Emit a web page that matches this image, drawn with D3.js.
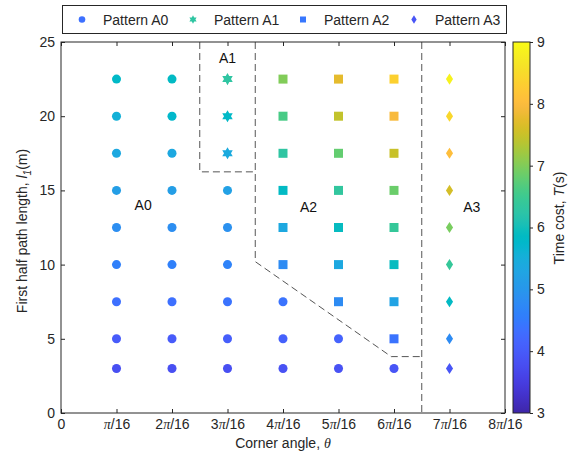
<!DOCTYPE html>
<html>
<head>
<meta charset="utf-8">
<script src="https://cdn.jsdelivr.net/npm/d3@7"></script>
<style>
  html, body { margin: 0; padding: 0; background: #fff; }
  svg { display: block; font-family: "Liberation Sans", Arial, sans-serif; }
</style>
</head>
<body>
<svg id="chart" width="573" height="457"></svg>
<script>
// Corner angle in units of pi/16
const angleSteps = [1, 2, 3, 4, 5, 6, 7];
// First half path length l1 (m)
const pathLengths = [3, 5, 7.5, 10, 12.5, 15, 17.5, 20, 22.5];
// Time cost T (s); one row per corner angle, ordered like pathLengths
const timeCost = [
  [3.8, 4.0, 4.35, 4.6, 4.85, 5.15, 5.35, 5.55, 5.8],
  [3.8, 4.0, 4.35, 4.6, 4.85, 5.15, 5.35, 5.75, 5.85],
  [3.8, 4.05, 4.4, 4.65, 4.9, 5.2, 5.4, 5.8, 6.3],
  [3.85, 4.1, 4.4, 4.8, 5.35, 5.85, 6.3, 6.6, 7.0],
  [3.85, 4.15, 4.8, 5.35, 5.9, 6.35, 6.8, 7.45, 7.75],
  [3.9, 4.4, 5.25, 5.9, 6.4, 6.85, 7.5, 7.95, 8.35],
  [3.9, 4.8, 5.85, 6.4, 6.95, 7.6, 8.05, 8.45, 8.85]
];
// Motion pattern of each point (0 = A0, 1 = A1, 2 = A2, 3 = A3)
const patternGrid = [
  [0, 0, 0, 0, 0, 0, 0, 0, 0],
  [0, 0, 0, 0, 0, 0, 0, 0, 0],
  [0, 0, 0, 0, 0, 0, 1, 1, 1],
  [0, 0, 0, 2, 2, 2, 2, 2, 2],
  [0, 0, 2, 2, 2, 2, 2, 2, 2],
  [0, 2, 2, 2, 2, 2, 2, 2, 2],
  [3, 3, 3, 3, 3, 3, 3, 3, 3]
];
const patternNames = ["Pattern A0", "Pattern A1", "Pattern A2", "Pattern A3"];
const legendTimeCost = [4.35, 6.3, 4.45, 3.9];

// Region boundaries (angle step, l1)
const boundaryA1 = [[2.5, 25], [2.5, 16.25], [3.5, 16.25]];
const boundaryA2 = [[3.5, 25], [3.5, 10.2], [5.95, 3.8], [6.5, 3.8]];
const boundaryA3 = [[6.5, 25], [6.5, 0]];
const regionLabels = ["A0", "A1", "A2", "A3"];
const regionLabelPos = [[1.48, 14.0], [3.0, 23.9], [4.46, 13.9], [7.4, 13.9]];

const xTicks = [0, 1, 2, 3, 4, 5, 6, 7, 8];
const yTicks = [0, 5, 10, 15, 20, 25];
const cTicks = [3, 4, 5, 6, 7, 8, 9];

// parula(64)
const parula = [
[0.2422,0.1504,0.6603],[0.2504,0.1650,0.7076],[0.2578,0.1818,0.7511],[0.2647,0.1978,0.7952],
[0.2706,0.2147,0.8364],[0.2751,0.2342,0.8710],[0.2783,0.2559,0.8991],[0.2803,0.2782,0.9221],
[0.2813,0.3006,0.9414],[0.2810,0.3228,0.9579],[0.2795,0.3447,0.9717],[0.2760,0.3667,0.9829],
[0.2699,0.3892,0.9906],[0.2602,0.4123,0.9952],[0.2440,0.4358,0.9988],[0.2206,0.4603,0.9973],
[0.1963,0.4847,0.9892],[0.1834,0.5074,0.9798],[0.1786,0.5289,0.9682],[0.1764,0.5499,0.9520],
[0.1687,0.5703,0.9359],[0.1540,0.5902,0.9218],[0.1460,0.6091,0.9079],[0.1380,0.6276,0.8973],
[0.1248,0.6459,0.8883],[0.1113,0.6635,0.8763],[0.0952,0.6798,0.8598],[0.0689,0.6948,0.8394],
[0.0297,0.7082,0.8163],[0.0036,0.7203,0.7917],[0.0067,0.7312,0.7660],[0.0433,0.7411,0.7394],
[0.0964,0.7500,0.7120],[0.1408,0.7584,0.6842],[0.1717,0.7670,0.6554],[0.1938,0.7758,0.6251],
[0.2161,0.7843,0.5923],[0.2470,0.7918,0.5567],[0.2906,0.7973,0.5188],[0.3406,0.8008,0.4789],
[0.3909,0.8029,0.4354],[0.4456,0.8024,0.3909],[0.5044,0.7993,0.3480],[0.5616,0.7942,0.3045],
[0.6174,0.7876,0.2612],[0.6720,0.7793,0.2227],[0.7242,0.7698,0.1910],[0.7738,0.7598,0.1646],
[0.8203,0.7498,0.1535],[0.8634,0.7406,0.1596],[0.9035,0.7330,0.1774],[0.9393,0.7288,0.2100],
[0.9728,0.7298,0.2394],[0.9956,0.7434,0.2371],[0.9970,0.7659,0.2199],[0.9952,0.7893,0.2028],
[0.9892,0.8136,0.1885],[0.9786,0.8386,0.1766],[0.9676,0.8639,0.1643],[0.9610,0.8890,0.1537],
[0.9597,0.9135,0.1423],[0.9628,0.9373,0.1265],[0.9691,0.9606,0.1064],[0.9769,0.9839,0.0805]
].map(c => d3.rgb(c[0] * 255, c[1] * 255, c[2] * 255).formatHex());

const ink = "#262626";
const svg = d3.select("#chart");
const plot = { left: 61, right: 505, top: 42, bottom: 413 };

const x = d3.scaleLinear().domain([0, 8]).range([plot.left, plot.right]);
const y = d3.scaleLinear().domain([0, 25]).range([plot.bottom, plot.top]);
const color = d3.scaleSequential(d3.piecewise(d3.interpolateRgb, parula)).domain([3, 9]);

// marker shapes
const hexagram = {
  draw(ctx, size) {
    const R = Math.sqrt(size) * 0.62, r = R / Math.sqrt(3);
    for (let i = 0; i < 12; i++) {
      const a = -Math.PI / 2 + i * Math.PI / 6;
      const rr = i % 2 === 0 ? R : r;
      const px = rr * Math.cos(a), py = rr * Math.sin(a);
      if (i === 0) ctx.moveTo(px, py); else ctx.lineTo(px, py);
    }
    ctx.closePath();
  }
};
const tallDiamond = {
  draw(ctx, size) {
    const h = Math.sqrt(size) * 0.62, w = h * 0.64;
    ctx.moveTo(0, -h); ctx.lineTo(w, 0); ctx.lineTo(0, h); ctx.lineTo(-w, 0); ctx.closePath();
  }
};
const symbolTypes = [d3.symbolCircle, hexagram, d3.symbolSquare, tallDiamond];
const symbolSizes = [64, 95, 81, 80];
const legendSizes = [34, 45, 36, 45];

// legend
const lg = svg.append("g");
lg.append("rect").attr("x", 62.5).attr("y", 5.5).attr("width", 444).attr("height", 28)
  .attr("fill", "#fff").attr("stroke", ink).attr("stroke-width", 1);
const legendMarkX = [82, 193, 303, 414];
patternNames.forEach((name, i) => {
  lg.append("path")
    .attr("d", d3.symbol(symbolTypes[i], legendSizes[i])())
    .attr("transform", `translate(${legendMarkX[i]},19.5)`)
    .attr("fill", color(legendTimeCost[i]));
  lg.append("text").attr("x", legendMarkX[i] + 21).attr("y", 24.5)
    .attr("font-size", 14).attr("fill", ink).text(name);
});

// region boundaries
const line = d3.line().x(d => x(d[0])).y(d => y(d[1]));
[boundaryA1, boundaryA2, boundaryA3].forEach(b => {
  svg.append("path").attr("d", line(b)).attr("fill", "none")
    .attr("stroke", "#555").attr("stroke-width", 1).attr("stroke-dasharray", "7,4");
});

// scatter points
const points = [];
angleSteps.forEach((a, i) => pathLengths.forEach((l, j) => {
  points.push({ a, l, t: timeCost[i][j], p: patternGrid[i][j] });
}));
svg.append("g").selectAll("path").data(points).join("path")
  .attr("d", d => d3.symbol(symbolTypes[d.p], symbolSizes[d.p])())
  .attr("transform", d => `translate(${x(d.a)},${y(d.l)})`)
  .attr("fill", d => color(d.t));

// region labels
regionLabels.forEach((t, i) => {
  svg.append("text").attr("x", x(regionLabelPos[i][0])).attr("y", y(regionLabelPos[i][1]))
    .attr("dy", "0.35em").attr("text-anchor", "middle").attr("font-size", 14)
    .attr("fill", "#111").text(t);
});

// axes
const gx = svg.append("g").attr("transform", `translate(0,${plot.bottom})`)
  .call(d3.axisBottom(x).tickValues(xTicks).tickSizeInner(-4).tickSizeOuter(0).tickPadding(4).tickFormat(() => ""));
const gxt = svg.append("g").attr("transform", `translate(0,${plot.top})`)
  .call(d3.axisTop(x).tickValues(xTicks).tickSizeInner(-4).tickSizeOuter(0).tickFormat(() => ""));
const gy = svg.append("g").attr("transform", `translate(${plot.left},0)`)
  .call(d3.axisLeft(y).tickValues(yTicks).tickSizeInner(-4).tickSizeOuter(0).tickPadding(6));
const gyr = svg.append("g").attr("transform", `translate(${plot.right},0)`)
  .call(d3.axisRight(y).tickValues(yTicks).tickSizeInner(-4).tickSizeOuter(0).tickFormat(() => ""));
[gx, gxt, gy, gyr].forEach(g => {
  g.select(".domain").remove();
  g.selectAll("line").attr("stroke", ink);
  g.selectAll("text").attr("font-size", 14).attr("fill", ink).attr("font-family", "Liberation Sans, Arial, sans-serif");
});
// x tick labels with pi
gx.selectAll(".tick").each(function (d) {
  const t = d3.select(this).select("text").text(null).attr("dy", "0.85em");
  if (d === 0) { t.text("0"); return; }
  if (d > 1) t.append("tspan").text(d);
  t.append("tspan").attr("font-style", "italic").attr("font-family", "Liberation Serif, serif").text("\u03C0");
  t.append("tspan").text("/16");
});
svg.append("rect").attr("x", plot.left).attr("y", plot.top)
  .attr("width", plot.right - plot.left).attr("height", plot.bottom - plot.top)
  .attr("fill", "none").attr("stroke", ink).attr("stroke-width", 1);

// axis titles
const xl = svg.append("text").attr("x", (plot.left + plot.right) / 2).attr("y", 448)
  .attr("text-anchor", "middle").attr("font-size", 14).attr("fill", ink);
xl.append("tspan").text("Corner angle, ");
xl.append("tspan").attr("font-style", "italic").attr("font-family", "Liberation Serif, serif").text("\u03B8");

const yl = svg.append("text").attr("transform", "translate(27,231) rotate(-90)")
  .attr("text-anchor", "middle").attr("font-size", 14).attr("fill", ink);
yl.append("tspan").text("First half path length, ");
yl.append("tspan").attr("font-style", "italic").text("l");
yl.append("tspan").attr("font-style", "italic").attr("font-size", 10).attr("dy", 4).text("1");
yl.append("tspan").attr("dy", -4).text("(m)");

// colorbar
const cb = { x: 513, w: 17 };
const cy = d3.scaleLinear().domain([3, 9]).range([plot.bottom, plot.top]);
const grad = svg.append("defs").append("linearGradient").attr("id", "cbar")
  .attr("x1", 0).attr("y1", 1).attr("x2", 0).attr("y2", 0);
parula.forEach((c, i) => {
  grad.append("stop").attr("offset", i / (parula.length - 1)).attr("stop-color", c);
});
svg.append("rect").attr("x", cb.x).attr("y", cy(9)).attr("width", cb.w).attr("height", cy(3) - cy(9))
  .attr("fill", "url(#cbar)").attr("stroke", ink).attr("stroke-width", 1);
const gc = svg.append("g").attr("transform", `translate(${cb.x + cb.w},0)`)
  .call(d3.axisRight(cy).tickValues(cTicks).tickFormat(d3.format("d"))
    .tickSizeInner(3).tickSizeOuter(0).tickPadding(4));
gc.select(".domain").remove();
gc.selectAll("line").attr("stroke", ink);
gc.selectAll("text").attr("font-size", 14).attr("fill", ink).attr("font-family", "Liberation Sans, Arial, sans-serif");

const cl = svg.append("text").attr("transform", "translate(564,218) rotate(-90)")
  .attr("text-anchor", "middle").attr("font-size", 14).attr("fill", ink);
cl.append("tspan").text("Time cost, ");
cl.append("tspan").attr("font-style", "italic").text("T");
cl.append("tspan").text("(s)");
</script>
</body>
</html>
